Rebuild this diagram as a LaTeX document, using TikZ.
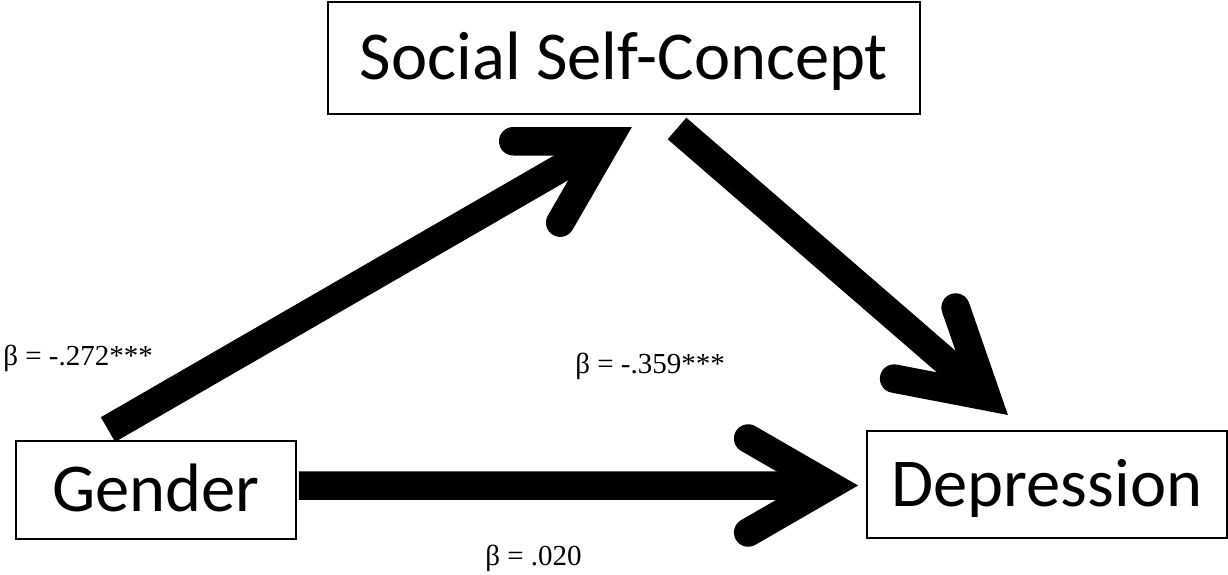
\documentclass[tikz,border=0pt]{standalone}
\usepackage{fontspec}
\setmainfont{Carlito}
\newfontfamily\timesfont{Liberation Serif}
\usetikzlibrary{calc}

\begin{document}
\begin{tikzpicture}[x=0.02cm,y=-0.02cm,
	box/.style={draw,line width=1.1pt,inner sep=0pt,text height=24.5pt,text depth=0pt,font=\fontsize{39}{47}\selectfont},
	shaft/.style={line width=0.57cm},
	barb/.style={line width=0.57cm,line cap=round,line join=miter},
	beta/.style={anchor=base west,inner sep=0pt,font=\timesfont\fontsize{16.5}{19}\selectfont}]
	\useasboundingbox (0,0) rectangle (1228,575);
	\node[box,minimum width=11.84cm,minimum height=2.24cm] (ssc) at (624,58) {Social Self-Concept};
	\node[box,minimum width=5.6cm,minimum height=1.96cm] (gender) at (156,490) {Gender};
	\node[box,minimum width=7.2cm,minimum height=2.14cm] (depr) at (1047,484.5) {Depression};
	\node[beta] (b1) at (3,365) {β = -.272***};
	\node[beta] (b2) at (575,373) {β = -.359***};
	\node[beta] (b3) at (485,565) {β = .020};
	% gender -> social self-concept
	\draw[shaft] ([shift={(-48,-10.5)}]gender.north) coordinate (s1) -- ([shift={(-16.8,26.3)}]ssc.south) coordinate (p1);
	\draw[barb] ($(p1)!1.88cm!30:(s1)$) -- (p1) -- ($(p1)!1.88cm!-30:(s1)$);
	% gender -> depression
	\draw[shaft] ([shift={(2,-4.5)}]gender.east) coordinate (s2) -- ([shift={(-36.5,1)}]depr.west) coordinate (p2);
	\draw[barb] ($(p2)!1.88cm!30:(s2)$) -- (p2) -- ($(p2)!1.88cm!-30:(s2)$);
	% social self-concept -> depression
	\draw[shaft] ([shift={(53,13.5)}]ssc.south) coordinate (s3) -- ([shift={(-60.6,-33.7)}]depr.north) coordinate (p3);
	\draw[barb] ($(p3)!1.88cm!30:(s3)$) -- (p3) -- ($(p3)!1.88cm!-30:(s3)$);
\end{tikzpicture}
\end{document}
